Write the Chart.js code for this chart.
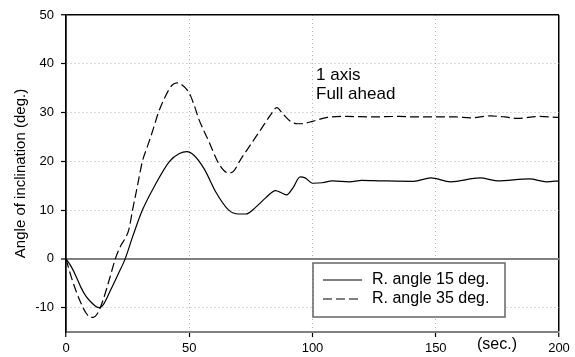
<!DOCTYPE html>
<html lang="en">
<head>
	<meta charset="UTF-8">
	<title>Angle of inclination</title>
	<script src="https://cdn.jsdelivr.net/npm/chart.js"></script>
	<style>
		body { margin: 0; background: #fff; }
		canvas { display: block; }
	</style>
</head>
<body>
	<canvas id="angleChart" width="575" height="357"></canvas>

	<script>
		// time (sec.) and angle (deg.)
		const time15 = [0, 2, 4, 6, 8, 10, 12, 13.5, 15, 18, 21, 24, 27, 31, 36, 42, 46, 49, 52, 56, 61, 66, 70, 73, 77, 81, 85, 87.5, 89.5, 92, 95, 97, 100, 104, 108, 115, 120, 128, 141, 148, 156, 168, 175, 188, 195, 200];
		const angle15 = [0, -1.5, -3.5, -5.8, -7.6, -8.8, -9.7, -10, -9.5, -6.5, -3.3, 0, 4.5, 10, 15, 20, 21.6, 22, 21.2, 18.5, 13.5, 10, 9.2, 9.2, 10.6, 12.5, 14, 13.5, 13.1, 14.5, 16.8, 16.6, 15.5, 15.6, 16, 15.8, 16.1, 16, 15.9, 16.6, 15.8, 16.6, 16, 16.4, 15.8, 16];

		const time35 = [0, 2, 4, 6, 8, 10, 11, 13, 15, 18, 20, 22, 24, 25.5, 27, 29, 31, 33, 35, 37.5, 40, 43, 45, 47, 50, 52, 54, 58, 62, 66, 68, 71, 75, 79, 83, 85.5, 88, 91, 94, 97, 100, 106, 114, 124, 135, 142, 150, 158, 164, 172, 178, 183, 192, 200];
		const angle35 = [0, -3.5, -6.5, -9, -11, -12, -12, -11, -8.5, -3.5, 0, 2.5, 4.2, 6, 10, 15, 20, 23, 26, 30, 33, 35.6, 36.1, 35.7, 34, 31.5, 28.5, 24, 19.5, 17.6, 18, 20.5, 23.5, 26.5, 29.5, 31, 29.7, 28.2, 27.7, 27.8, 28.2, 29, 29.2, 29.1, 29.2, 29.1, 29.1, 29.1, 28.9, 29.3, 29.1, 28.8, 29.2, 29];

		const yTicks = [-10, 0, 10, 20, 30, 40, 50];
		const seriesLabels = ['R. angle 15 deg.', 'R. angle 35 deg.'];
		const noteLines = ['1 axis', 'Full ahead'];
		const xUnit = '(sec.)';

		const FONT = 'Arial, "Liberation Sans", sans-serif';

		function toPoints(xs, ys) {
			return xs.map((x, i) => ({ x: x, y: ys[i] }));
		}

		// legend box, note text and unit label
		const extras = {
			id: 'extras',
			afterDatasetsDraw(chart) {
				const ctx = chart.ctx;
				ctx.save();

				// note
				ctx.fillStyle = '#000';
				ctx.font = '17px ' + FONT;
				ctx.textBaseline = 'middle';
				ctx.textAlign = 'left';
				ctx.fillText(noteLines[0], 316, 75);
				ctx.fillText(noteLines[1], 316, 94);

				// unit
				ctx.font = '16px ' + FONT;
				ctx.fillText(xUnit, 477, 345);

				// legend
				ctx.fillStyle = '#fff';
				ctx.fillRect(313, 263, 192, 54);
				ctx.strokeStyle = '#666';
				ctx.lineWidth = 1.5;
				ctx.strokeRect(313, 263, 192, 54);

				chart.data.datasets.forEach((ds, i) => {
					const y = 280 + i * 19;
					ctx.strokeStyle = ds.borderColor;
					ctx.lineWidth = ds.borderWidth;
					ctx.setLineDash(ds.borderDash || []);
					ctx.beginPath();
					ctx.moveTo(323, y);
					ctx.lineTo(362, y);
					ctx.stroke();
					ctx.setLineDash([]);
					ctx.fillStyle = '#000';
					ctx.font = '16px ' + FONT;
					ctx.fillText(ds.label, 372, y);
				});
				ctx.restore();
			}
		};

		const ctx = document.getElementById('angleChart').getContext('2d');
		const angleChart = new Chart(ctx, {
			type: 'line',
			data: {
				datasets: [{
					label: seriesLabels[0],
					data: toPoints(time15, angle15),
					borderColor: '#000',
					borderWidth: 1.2,
					pointRadius: 0,
					fill: false,
					cubicInterpolationMode: 'monotone'
				}, {
					label: seriesLabels[1],
					data: toPoints(time35, angle35),
					borderColor: '#000',
					borderWidth: 1.2,
					borderDash: [9, 4],
					pointRadius: 0,
					fill: false,
					cubicInterpolationMode: 'monotone'
				}]
			},
			options: {
				responsive: false,
				animation: false,
				devicePixelRatio: 1,
				layout: { padding: { top: 15, right: 16, left: 0, bottom: 0 } },
				plugins: {
					legend: { display: false },
					tooltip: { enabled: false }
				},
				scales: {
					x: {
						type: 'linear',
						min: 0,
						max: 200,
						afterFit: function (scale) { scale.height = 25; },
						ticks: {
							stepSize: 50,
							color: '#000',
							padding: 4,
							maxRotation: 0,
							font: { family: FONT, size: 13 }
						},
						grid: {
							color: c => (c.tick && c.tick.value === 200) || (c.tick && c.tick.value === 0) ? '#000' : '#b5b5b5',
							lineWidth: c => c.tick && (c.tick.value === 200 || c.tick.value === 0) ? 1.5 : 1,
							tickColor: '#000',
							tickLength: 5,
							tickWidth: 1.2
						},
						border: {
							color: '#808080',
							width: 2,
							dash: c => (c.type === 'tick' && c.tick.value !== 0 && c.tick.value !== 200) ? [1, 3] : []
						}
					},
					y: {
						min: -15,
						max: 50,
						afterFit: function (scale) { scale.width = 66; },
						afterBuildTicks: function (scale) {
							scale.ticks = yTicks.map(v => ({ value: v }));
						},
						title: {
							display: true,
							text: 'Angle of inclination (deg.)',
							color: '#000',
							font: { family: FONT, size: 15 },
							padding: { top: 12, bottom: 0 }
						},
						ticks: {
							color: '#000',
							padding: 7,
							font: { family: FONT, size: 13 }
						},
						grid: {
							color: c => {
								if (!c.tick) return '#000';
								if (c.tick.value === 50) return '#000';
								if (c.tick.value === 0) return '#808080';
								return '#b5b5b5';
							},
							lineWidth: c => c.tick && c.tick.value === 0 ? 2 : (c.tick && c.tick.value === 50 ? 1.5 : 1),
							tickColor: '#000',
							tickLength: 5,
							tickWidth: 1.2
						},
						border: {
							color: '#000',
							width: 1.5,
							dash: c => (c.type === 'tick' && c.tick.value !== 0 && c.tick.value !== 50) ? [1, 3] : []
						}
					}
				}
			},
			plugins: [extras]
		});
	</script>
</body>
</html>
